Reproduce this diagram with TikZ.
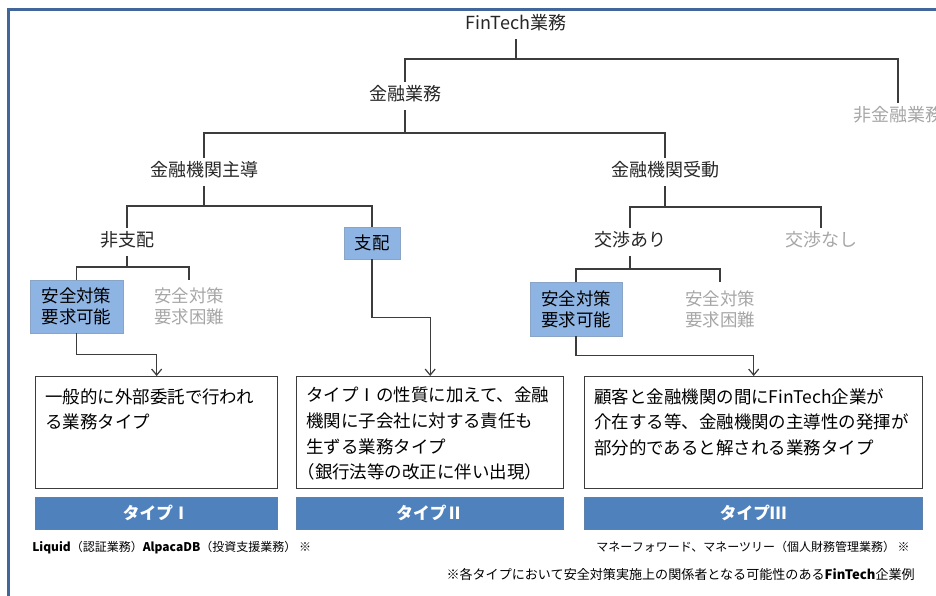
\documentclass[tikz,border=0pt]{standalone}
\usepackage{fontspec}
\setmainfont{Noto Sans CJK JP}
\usetikzlibrary{arrows.meta}
\definecolor{framecol}{HTML}{41679A}
\definecolor{paleblue}{HTML}{8EB4E3}
\definecolor{barblue}{HTML}{4F81BD}
\definecolor{fadegray}{HTML}{A6A6A6}
\definecolor{linegray}{HTML}{3C3C3C}
\tikzset{
  lbl/.style={inner sep=5.25pt, text height=0.85em, text depth=0.15em,
    font=\fontsize{13.5pt}{16pt}\selectfont, text=black!85},
  faded/.style={lbl, text=fadegray},
  choice/.style={draw=paleblue!70!gray, fill=paleblue, inner sep=0pt, align=center,
    font=\fontsize{13.1pt}{15.75pt}\selectfont},
  choiceout/.style={choice, draw=none, fill=none, text=fadegray},
  link/.style={draw=linegray, line width=0.9pt},
  arr/.style={link, -{Straight Barb[length=4.5pt,width=7.5pt]}},
  descbox/.style={draw=linegray, line width=1pt, anchor=north west, inner sep=0pt,
    minimum height=84pt},
  desctxt/.style={anchor=north west, align=left, inner sep=0pt,
    font=\fontsize{13.1pt}{19.2pt}\selectfont},
  typebar/.style={fill=barblue, draw=barblue!70!gray, anchor=north west, inner sep=0pt,
    minimum height=24pt, text=white, font=\bfseries\fontsize{12.5pt}{14pt}\selectfont},
  note/.style={inner sep=0pt, font=\fontsize{9pt}{11pt}\selectfont}
}

\begin{document}
\begin{tikzpicture}[x=0.75pt,y=-0.75pt]
    \useasboundingbox (0,0) rectangle (936,596);
    \draw[framecol, line width=2.6pt] (8.5,9.5) rectangle (960,620);

    \node[lbl] (ft) at (516,25) {FinTech業務};
    \node[lbl] (kin) at (405,96) {金融業務};
    \node[faded] (hikin) at (898,117) {非金融業務};
    \node[lbl] (shudo) at (204,172) {金融機関主導};
    \node[lbl] (judo) at (665,172) {金融機関受動};
    \node[lbl] (hishihai) at (127,242) {非支配};
    \node[choice, minimum width=42pt, minimum height=24pt] (shihai) at (372,243) {支配};
    \node[lbl] (ari) at (630,242) {交渉あり};
    \node[faded] (nashi) at (821,242) {交渉なし};
    \node[choice, minimum width=69.75pt, minimum height=39.75pt] (kano1) at (76.5,306.5) {安全対策\\要求可能};
    \node[choiceout, minimum width=69.75pt, minimum height=39.75pt] (konnan1) at (189,306.5) {安全対策\\要求困難};
    \node[choice, minimum width=69pt, minimum height=40.5pt] (kano2) at (576,309) {安全対策\\要求可能};
    \node[choiceout, minimum width=69pt, minimum height=40.5pt] (konnan2) at (720,309) {安全対策\\要求困難};

    \node[descbox, minimum width=181.5pt] (desc1) at (35,376) {};
    \node[descbox, minimum width=200.25pt] (desc2) at (296,376) {};
    \node[descbox, minimum width=253.5pt] (desc3) at (584,376) {};
    \node[desctxt] (txt1) at (45,388) {一般的に外部委託で行われ\\る業務タイプ};
    \node[desctxt] (txt2) at (306,387) {タイプⅠの性質に加えて、金融\\機関に子会社に対する責任も\\生ずる業務タイプ\\\hspace*{-0.5em}（銀行法等の改正に伴い出現）};
    \node[desctxt] (txt3) at (594,388) {顧客と金融機関の間にFinTech企業が\\介在する等、金融機関の主導性の発揮が\\部分的であると解される業務タイプ};

    \foreach \n/\x/\w/\r in {1/35/181.5/Ⅰ, 2/296/200.25/Ⅱ, 3/584/253.5/Ⅲ}
    {
      \node[typebar, minimum width=\w pt] (type\n) at (\x,497) {タイプ\r};
    }

    \draw[link] (ft.south) -- ++(0,20) coordinate (ftj) -| (kin.north);
    \draw[link] (ftj) -| (hikin.north);
    \draw[link] (kin.south) -- ++(0,23) coordinate (kinj) -| (shudo.north);
    \draw[link] (kinj) -| (judo.north);
    \draw[link] (shudo.south) -- ++(0,20) coordinate (shudoj) -| (hishihai.north);
    \draw[link] (shudoj) -| (shihai.north);
    \draw[link] (hishihai.south) -- ++(0,11) coordinate (hishihaij) -| (kano1.north);
    \draw[link] (hishihaij) -| (konnan1.north);
    \draw[link] (judo.south) -- ++(0,21) coordinate (judoj) -| (ari.north);
    \draw[link] (judoj) -| (nashi.north);
    \draw[link] (ari.south) -- ++(0,13) coordinate (arij) -| (kano2.north);
    \draw[link] (arij) -| (konnan2.north);
    \draw[arr] (kano1.south) -- ++(0,21) -| (desc1.north);
    \draw[arr] (shihai.south) -- ++(0,58) -| (desc2.north);
    \draw[arr] (kano2.south) -- ++(0,19) -| (desc3.north);

    \node[note, anchor=west] (ex1) at (32,548) {\textbf{Liquid}（認証業務）\textbf{AlpacaDB}（投資支援業務） ※};
    \node[note, anchor=east] (ex3) at (910,547) {マネーフォワード、マネーツリー（個人財務管理業務） ※};
    \node[note, anchor=east, font=\fontsize{9.8pt}{11pt}\selectfont] (foot) at (915,575) {※各タイプにおいて安全対策実施上の関係者となる可能性のある\textbf{FinTech}企業例};
  \end{tikzpicture}
\end{document}
